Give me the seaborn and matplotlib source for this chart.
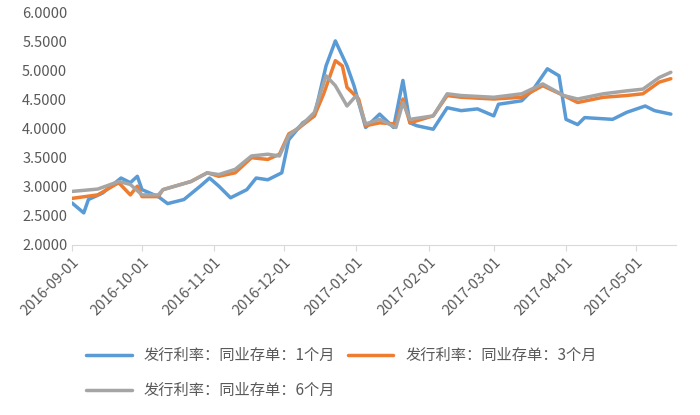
import pandas as pd
import numpy as np
import matplotlib.pyplot as plt
import matplotlib.dates as mdates
import seaborn as sns

sns.set_style("white")
plt.rcParams['font.family'] = ['Noto Sans CJK SC', 'DejaVu Sans']

names = ["发行利率：同业存单：1个月", "发行利率：同业存单：3个月", "发行利率：同业存单：6个月"]
colors = ["#5B9BD5", "#ED7D31", "#A5A5A5"]

dates_1m = ["2016-09-01", "2016-09-06", "2016-09-08", "2016-09-14", "2016-09-22", "2016-09-26",
            "2016-09-29", "2016-10-01", "2016-10-08", "2016-10-12", "2016-10-19", "2016-10-26",
            "2016-10-30", "2016-11-03", "2016-11-08", "2016-11-15", "2016-11-19", "2016-11-24",
            "2016-11-30", "2016-12-03", "2016-12-09", "2016-12-14", "2016-12-19", "2016-12-23",
            "2016-12-28", "2016-12-31", "2017-01-05", "2017-01-11", "2017-01-17", "2017-01-21",
            "2017-01-24", "2017-01-27", "2017-02-03", "2017-02-09", "2017-02-15", "2017-02-22",
            "2017-03-01", "2017-03-03", "2017-03-13", "2017-03-18", "2017-03-24", "2017-03-29",
            "2017-04-01", "2017-04-06", "2017-04-09", "2017-04-21", "2017-04-27", "2017-05-05",
            "2017-05-09", "2017-05-16"]
vals_1m = [2.72, 2.55, 2.78, 2.89, 3.15, 3.07, 3.18, 2.95, 2.83, 2.71, 2.78, 3.01,
           3.15, 3.01, 2.81, 2.95, 3.15, 3.12, 3.24, 3.81, 4.10, 4.22, 5.08, 5.51,
           5.08, 4.74, 4.02, 4.25, 4.02, 4.83, 4.10, 4.05, 3.99, 4.36, 4.31, 4.34,
           4.22, 4.42, 4.48, 4.68, 5.03, 4.91, 4.16, 4.07, 4.19, 4.16, 4.28, 4.39,
           4.31, 4.25]

dates_3m = ["2016-09-01", "2016-09-12", "2016-09-21", "2016-09-26", "2016-09-29", "2016-10-01",
            "2016-10-08", "2016-10-10", "2016-10-22", "2016-10-29", "2016-11-03", "2016-11-10",
            "2016-11-17", "2016-11-24", "2016-11-29", "2016-12-03", "2016-12-07", "2016-12-14",
            "2016-12-18", "2016-12-23", "2016-12-26", "2016-12-28", "2017-01-02", "2017-01-05",
            "2017-01-11", "2017-01-18", "2017-01-21", "2017-01-24", "2017-02-03", "2017-02-09",
            "2017-02-15", "2017-03-01", "2017-03-13", "2017-03-22", "2017-03-31", "2017-04-06",
            "2017-04-17", "2017-04-27", "2017-05-04", "2017-05-11", "2017-05-16"]
vals_3m = [2.80, 2.86, 3.07, 2.86, 3.01, 2.83, 2.83, 2.95, 3.09, 3.24, 3.18, 3.24,
           3.50, 3.47, 3.56, 3.91, 4.00, 4.22, 4.60, 5.17, 5.08, 4.71, 4.51, 4.05,
           4.10, 4.08, 4.51, 4.10, 4.22, 4.57, 4.54, 4.51, 4.54, 4.74, 4.57, 4.45,
           4.54, 4.57, 4.60, 4.80, 4.86]

dates_6m = ["2016-09-01", "2016-09-12", "2016-09-21", "2016-09-26", "2016-10-01", "2016-10-08",
            "2016-10-10", "2016-10-22", "2016-10-29", "2016-11-03", "2016-11-10", "2016-11-17",
            "2016-11-24", "2016-11-29", "2016-12-03", "2016-12-09", "2016-12-14", "2016-12-19",
            "2016-12-23", "2016-12-28", "2017-01-01", "2017-01-05", "2017-01-11", "2017-01-18",
            "2017-01-21", "2017-01-24", "2017-02-03", "2017-02-09", "2017-02-15", "2017-03-01",
            "2017-03-13", "2017-03-22", "2017-03-31", "2017-04-06", "2017-04-17", "2017-04-27",
            "2017-05-04", "2017-05-11", "2017-05-16"]
vals_6m = [2.92, 2.96, 3.09, 3.04, 2.86, 2.86, 2.95, 3.09, 3.24, 3.21, 3.30, 3.53,
           3.56, 3.53, 3.88, 4.08, 4.28, 4.91, 4.74, 4.39, 4.57, 4.08, 4.16, 4.02,
           4.45, 4.16, 4.22, 4.60, 4.57, 4.54, 4.60, 4.77, 4.57, 4.51, 4.60, 4.65,
           4.68, 4.88, 4.97]

frames = []
for n, d, v in zip(names, [dates_1m, dates_3m, dates_6m], [vals_1m, vals_3m, vals_6m]):
    frames.append(pd.DataFrame({"date": pd.to_datetime(d), "value": v, "series": n}))
df = pd.concat(frames)

fig = plt.figure(figsize=(7, 4.15), dpi=100)
ax = fig.add_axes([0.103, 0.41, 0.862, 0.56])
sns.lineplot(data=df, x="date", y="value", hue="series", palette=colors, linewidth=2.5, ax=ax)

ax.set_xlim(pd.Timestamp("2016-09-01"), pd.Timestamp("2017-05-18"))
ax.set_ylim(2.0, 6.0)
ax.set_yticks(np.arange(2.0, 6.01, 0.5))
ax.yaxis.set_major_formatter(plt.FuncFormatter(lambda v, p: f"{v:.4f}"))
ax.xaxis.set_major_locator(mdates.MonthLocator())
ax.xaxis.set_major_formatter(mdates.DateFormatter("%Y-%m-%d"))
for lab in ax.get_xticklabels():
    lab.set_rotation(45)
    lab.set_ha("right")
    lab.set_rotation_mode("anchor")
ax.tick_params(axis="both", labelsize=10.5, colors="#595959")
ax.tick_params(axis="x", length=4, color="#D9D9D9", bottom=True)
ax.tick_params(axis="y", length=0)
ax.set_xlabel("")
ax.set_ylabel("")
for s in ["top", "right", "left"]:
    ax.spines[s].set_visible(False)
ax.spines["bottom"].set_color("#D9D9D9")

# row-major order like the reference: 1M, 3M on first row, 6M below
handles, labels = ax.get_legend_handles_labels()
order = [0, 2, 1]
ax.legend([handles[i] for i in order], [labels[i] for i in order],
          loc="upper left", bbox_to_anchor=(0.0, -0.38), ncol=2, frameon=False,
          fontsize=11, labelcolor="#595959", handlelength=3, columnspacing=0.8,
          labelspacing=1.2)
fig.savefig("out.png", dpi=100)
